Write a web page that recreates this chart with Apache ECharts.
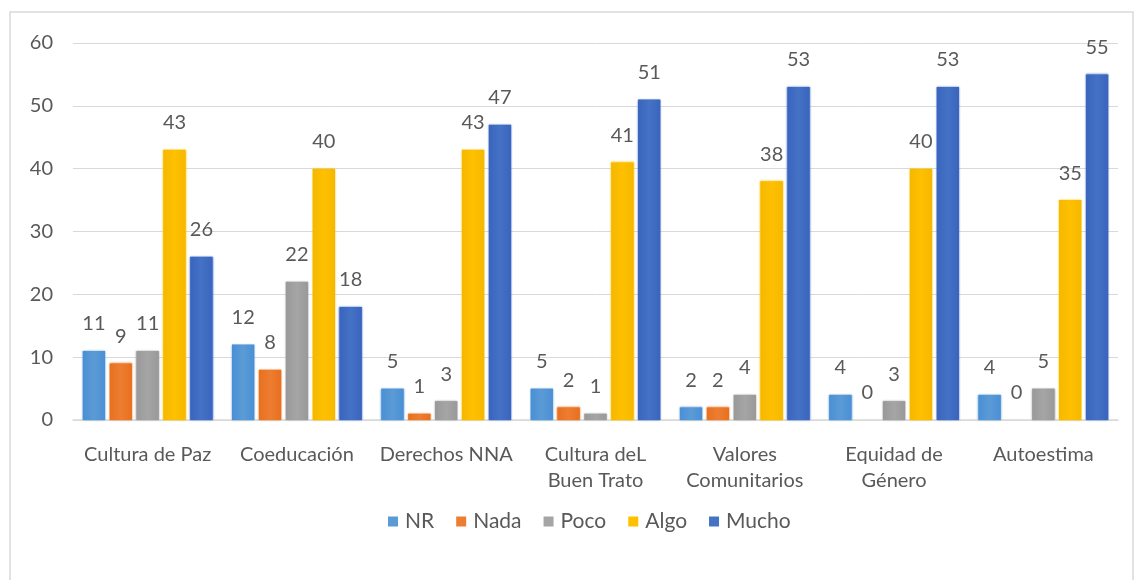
<!DOCTYPE html>
<html>
<head>
<meta charset="utf-8">
<script src="https://cdn.jsdelivr.net/npm/echarts@6/dist/echarts.min.js"></script>
<style>
  html, body { margin: 0; padding: 0; background: #ffffff; }
  #chart { width: 1136px; height: 580px; }
</style>
</head>
<body>
<div id="chart"></div>
<script>
// Topics surveyed
const categories = ['Cultura de Paz', 'Coeducación', 'Derechos NNA', 'Cultura deL\nBuen Trato', 'Valores\nComunitarios', 'Equidad de\nGénero', 'Autoestima'];
// Responses per level
const nr    = [11, 12, 5, 5, 2, 4, 4];
const nada  = [9, 8, 1, 2, 2, 0, 0];
const poco  = [11, 22, 3, 1, 4, 3, 5];
const algo  = [43, 40, 43, 41, 38, 40, 35];
const mucho = [26, 18, 47, 51, 53, 53, 55];
const seriesNames = ['NR', 'Nada', 'Poco', 'Algo', 'Mucho'];
const yTicks = [0, 10, 20, 30, 40, 50, 60];

const colors = ['#5B9BD5', '#ED7D31', '#A5A5A5', '#FFC000', '#4472C4'];
const edge   = ['#4A8FD6', '#E8701F', '#999999', '#F5B800', '#3A64BE'];
const textColor = '#595959';
const font = 'Lato, "Open Sans", sans-serif';

function barColor(i) {
  return new echarts.graphic.LinearGradient(0, 0, 1, 0, [
    { offset: 0, color: edge[i] },
    { offset: 0.5, color: colors[i] },
    { offset: 1, color: edge[i] }
  ]);
}

const values = [nr, nada, poco, algo, mucho];
const series = values.map((vals, i) => ({
  name: seriesNames[i],
  type: 'bar',
  data: vals,
  barGap: '20%',
  barCategoryGap: '13%',
  itemStyle: { color: barColor(i), shadowColor: colors[i], shadowBlur: 2 },
  label: {
    show: true,
    position: 'top',
    distance: 17,
    color: textColor,
    fontSize: 20,
    fontFamily: font
  }
}));

const chart = echarts.init(document.getElementById('chart'), null, { renderer: 'canvas' });
chart.setOption({
  animation: false,
  color: colors,
  graphic: [{
    type: 'rect',
    shape: { x: 10, y: 12, width: 1123, height: 600 },
    style: { fill: 'none', stroke: '#D9D9D9', lineWidth: 1.5 },
    silent: true
  }],
  grid: { left: 73, right: 18, top: 43, bottom: 160 },
  legend: {
    data: seriesNames.map((n, i) => ({ name: n, itemStyle: { color: colors[i] } })),
    top: 506,
    left: 383,
    icon: 'rect',
    itemWidth: 10,
    itemHeight: 10,
    itemGap: 22,
    textStyle: { color: textColor, fontSize: 21, fontFamily: font, padding: [0, 0, 0, 2] }
  },
  xAxis: {
    type: 'category',
    data: categories,
    axisLine: { lineStyle: { color: '#D9D9D9', width: 1.5 } },
    axisTick: { show: false },
    axisLabel: { color: textColor, fontSize: 20, fontFamily: font, margin: 22, lineHeight: 26, interval: 0 }
  },
  yAxis: {
    type: 'value',
    min: yTicks[0],
    max: yTicks[yTicks.length - 1],
    interval: 10,
    axisLine: { show: false },
    axisTick: { show: false },
    splitLine: { lineStyle: { color: '#D9D9D9', width: 1 } },
    axisLabel: { color: textColor, fontSize: 20, fontFamily: font, margin: 20 }
  },
  series: series
});
</script>
</body>
</html>
